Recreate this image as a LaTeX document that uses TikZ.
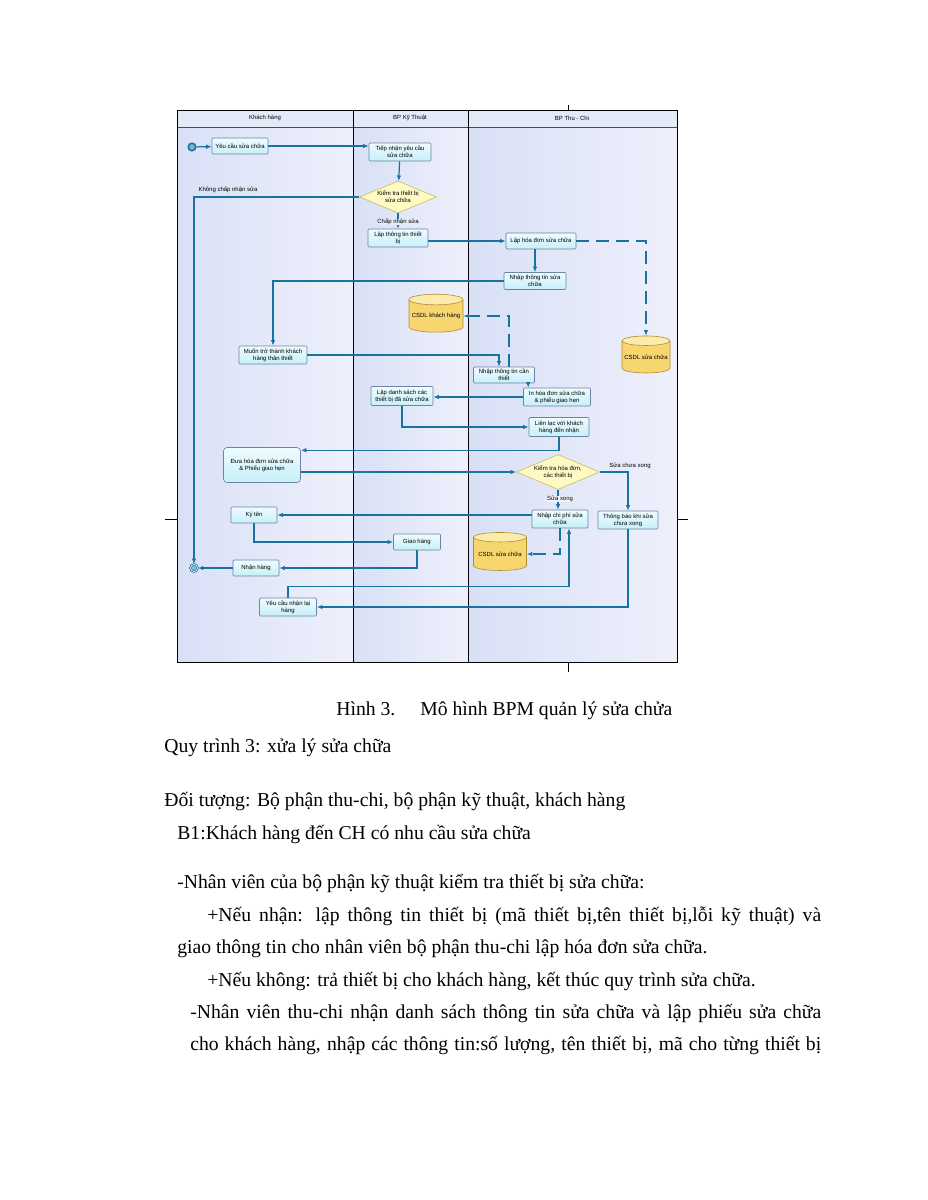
\documentclass[tikz,border=0pt]{standalone}
\usepackage{fontspec}
\setmainfont{Liberation Serif}
\newfontfamily\diagfont{Liberation Sans}
\usetikzlibrary{shapes.geometric,arrows.meta}
\begin{document}
\begin{tikzpicture}[x=0.02cm,y=-0.02cm,
    task/.style={draw=boxline, line width=0.35pt, rounded corners=0.6pt, top color=boxtop, bottom color=boxbot,
        align=center, inner sep=0.3pt, font=\diagfont\fontsize{3.4}{3.9}\selectfont},
    gate/.style={diamond, draw=gateline, line width=0.35pt, fill=gatefill, inner sep=0pt, align=center,
        font=\diagfont\fontsize{3.4}{3.9}\selectfont},
    store/.style={cylinder, shape border rotate=90, aspect=0.22, draw=dbline, line width=0.35pt,
        cylinder uses custom fill, cylinder body fill=dbbody, cylinder end fill=dbend, inner sep=0pt,
        align=center, font=\diagfont\fontsize{3.4}{3.9}\selectfont},
    flow/.style={draw=flowc, line width=0.7pt, -{Latex[length=1.1mm,width=0.9mm]}},
    dataflow/.style={flow, dash pattern=on 2.6mm off 1.4mm},
    lbl/.style={inner sep=0.3pt, font=\diagfont\fontsize{3.4}{3.9}\selectfont},
    lanehead/.style={font=\diagfont\fontsize{3.4}{3.9}\selectfont},
    txt/.style={anchor=base west, inner sep=0pt, font=\fontsize{11.2}{13}\selectfont}]
        \definecolor{lanel}{RGB}{217,224,246}
        \definecolor{laner}{RGB}{238,240,251}
        \definecolor{headc}{RGB}{228,233,248}
        \definecolor{boxline}{RGB}{110,130,165}
        \definecolor{boxtop}{RGB}{238,252,255}
        \definecolor{boxbot}{RGB}{198,240,248}
        \definecolor{gateline}{RGB}{200,190,95}
        \definecolor{gatefill}{RGB}{255,249,196}
        \definecolor{dbline}{RGB}{178,142,50}
        \definecolor{dbbody}{RGB}{247,214,112}
        \definecolor{dbend}{RGB}{252,236,172}
        \definecolor{flowc}{RGB}{25,115,160}
        \useasboundingbox[fill=white] (0,0) rectangle (927,1200);
        % lanes
        \shade[left color=lanel, right color=laner] (177,110) rectangle (353,662);
        \shade[left color=lanel, right color=laner] (353,110) rectangle (468,662);
        \shade[left color=lanel, right color=laner] (468,110) rectangle (677,662);
        \fill[headc] (177,110) rectangle (677,127);
        \draw[gray!60!black, line width=0.5pt] (177,127) -- (677,127);
        \draw[line width=0.55pt] (177,110) rectangle (677,662);
        \draw[line width=0.55pt] (353,110) -- (353,662);
        \draw[line width=0.55pt] (468,110) -- (468,662);
        \draw[line width=0.5pt] (165,519) -- (177,519);
        \draw[line width=0.5pt] (677,519) -- (688,519);
        \draw[line width=0.5pt] (568,105) -- (568,110);
        \draw[line width=0.5pt] (568,662) -- (568,672);
        \node[lanehead] (hkh) at (265,118) {Khách hàng};
        \node[lanehead] (hkt) at (410,118) {BP Kỹ Thuật};
        \node[lanehead] (htc) at (572,118) {BP Thu - Chi};
        % nodes
        \node[circle, draw=flowc, line width=0.9pt, fill=flowc!55, minimum size=0.15cm, inner sep=0pt] (start) at (192,147) {};
        \node[circle, draw=flowc, line width=0.5pt, double=white, double distance=0.4pt, fill=flowc!45, minimum size=0.14cm, inner sep=0pt] (end) at (194,568) {};
        \node[task, minimum width=1.12cm, minimum height=0.32cm] (yeucau) at (240,146) {Yêu cầu sửa chữa};
        \node[task, minimum width=1.24cm, minimum height=0.36cm] (tiepnhan) at (400,152) {Tiếp nhận yêu cầu\\sửa chữa};
        \node[gate, minimum width=1.54cm, minimum height=0.64cm, aspect=2.4] (ktra) at (398,197) {Kiểm tra thiết bị\\sửa chữa};
        \node[task, minimum width=1.2cm, minimum height=0.36cm] (lapttin) at (398,238) {Lập thông tin thiết\\bị};
        \node[task, minimum width=1.4cm, minimum height=0.32cm] (laphd) at (541,241) {Lập hóa đơn sửa chữa};
        \node[task, minimum width=1.24cm, minimum height=0.34cm] (nhapttsc) at (535,281) {Nhập thông tin sửa\\chữa};
        \node[store, minimum width=1.08cm, minimum height=0.76cm] (csdlkh) at (436,316) {CSDL khách hàng};
        \node[store, minimum width=0.96cm, minimum height=0.74cm] (csdlsc) at (646,357) {CSDL sửa chữa};
        \node[task, minimum width=1.36cm, minimum height=0.36cm] (muon) at (273,355) {Muốn trở thành khách\\hàng thân thiết};
        \node[task, minimum width=1.22cm, minimum height=0.32cm] (nhapcan) at (504,375) {Nhập thông tin cần\\thiết};
        \node[task, minimum width=1.34cm, minimum height=0.36cm] (inhd) at (557,397) {In hóa đơn sửa chữa\\\& phiếu giao hẹn};
        \node[task, minimum width=1.24cm, minimum height=0.38cm] (lapds) at (402,396) {Lập danh sách các\\thiết bị đã sửa chữa};
        \node[task, minimum width=1.2cm, minimum height=0.38cm] (lienlac) at (559,427) {Liên lạc với khách\\hàng đến nhận};
        \node[task, rounded corners=2pt, minimum width=1.54cm, minimum height=0.7cm] (duahd) at (262,465) {Đưa hóa đơn sửa chữa\\\& Phiếu giao hẹn};
        \node[gate, minimum width=1.66cm, minimum height=0.7cm, aspect=2.4] (kthd) at (558,472) {Kiểm tra hóa đơn,\\các thiết bị};
        \node[task, minimum width=1.12cm, minimum height=0.36cm] (nhapcp) at (560,519) {Nhập chi phí sửa\\chữa};
        \node[task, minimum width=1.2cm, minimum height=0.36cm] (thongbao) at (628,520) {Thông báo khi sửa\\chưa xong};
        \node[task, minimum width=0.92cm, minimum height=0.32cm] (kyten) at (254,515) {Ký tên};
        \node[task, minimum width=0.94cm, minimum height=0.32cm] (giaohang) at (417,542) {Giao hàng};
        \node[task, minimum width=0.92cm, minimum height=0.32cm] (nhanhang) at (256,568) {Nhận hàng};
        \node[store, minimum width=1.06cm, minimum height=0.76cm] (csdlsc2) at (500,554) {CSDL sửa chữa};
        \node[task, minimum width=1.14cm, minimum height=0.36cm] (yeucaunl) at (288,607) {Yêu cầu nhận lại\\hàng};
        \coordinate (c1) at ([xshift=0.1cm]inhd.north west);
        \coordinate (c2) at ([yshift=-0.06cm]duahd.north east);
        \coordinate (c3) at ([xshift=0.18cm]nhapcp.south);
        \coordinate (c4) at ([xshift=-0.1cm]nhapcan.north);
        \coordinate (c5) at ([xshift=0.1cm]nhapcan.north);
        % connectors
        \draw[flow] (start) -- (yeucau);
        \draw[flow] (yeucau.east) -- (yeucau.east -| tiepnhan.west);
        \draw[flow] (tiepnhan) -- (ktra);
        \draw[flow] (ktra.south) -- (lapttin.north);
        \draw[flow] (ktra.west) -| (end.north);
        \draw[flow] (lapttin.east |- laphd.west) -- (laphd.west);
        \draw[dataflow] (laphd.east) -| (csdlsc.north);
        \draw[flow] (laphd.south -| nhapttsc.north) -- (nhapttsc.north);
        \draw[flow] (nhapttsc.west) -| (muon.north);
        \draw[flow] (muon.east) -| (c4);
        \draw[dataflow] (c5) |- (csdlkh.east);
        \draw[flow] (c1 |- nhapcan.south) -- (c1);
        \draw[flow] (inhd.west) -- (inhd.west -| lapds.east);
        \draw[flow] (lapds.south) |- (lienlac.west);
        \draw[flow] (lienlac.south) |- (c2);
        \draw[flow] (duahd.east |- kthd.west) -- (kthd.west);
        \draw[flow] (kthd.east) -| (thongbao.north);
        \draw[flow] (kthd.south) -- (kthd.south |- nhapcp.north);
        \draw[flow] (nhapcp.west |- kyten.east) -- (kyten.east);
        \draw[flow] (kyten.south) |- (giaohang.west);
        \draw[flow] (giaohang.south) |- (nhanhang.east);
        \draw[flow] (nhanhang.west) -- (end.east);
        \draw[dataflow] (nhapcp.south) |- (csdlsc2.east);
        \draw[flow] (yeucaunl.north) -- ++(0,-11) -| (c3);
        \draw[flow] (thongbao.south) |- (yeucaunl.east);
        % labels
        \node[lbl, fill=lanel!60] (lchap) at (398,222) {Chấp nhận sửa};
        \node[lbl] (lkhong) at (228,190) {Không chấp nhận sửa};
        \node[lbl] (lchua) at (630,466) {Sửa chưa xong};
        \node[lbl, fill=laner!60] (lxong) at (560,499) {Sửa xong};
        % text
        \node[txt] (cap) at (336,715) {Hình 3.};
        \node[txt] (capt) at (420,715) {Mô hình BPM quản lý sửa chửa};
        \node[txt] (t1) at (164,752) {Quy trình 3: xửa lý sửa chữa};
        \node[txt] (t2) at (164,806) {Đối tượng: Bộ phận thu-chi, bộ phận kỹ thuật, khách hàng};
        \node[txt] (t3) at (177,839) {B1:Khách hàng đến CH có nhu cầu sửa chữa};
        \node[txt] (t4) at (177,888) {-Nhân viên của bộ phận kỹ thuật kiểm tra thiết bị sửa chữa:};
        \node[txt] (t5) at (207,921) {\makebox[12.28cm][s]{+Nếu nhận: lập thông tin thiết bị (mã thiết bị,tên thiết bị,lỗi kỹ thuật) và}};
        \node[txt] (t6) at (177,953) {giao thông tin cho nhân viên bộ phận thu-chi lập hóa đơn sửa chữa.};
        \node[txt] (t7) at (207,986) {+Nếu không: trả thiết bị cho khách hàng, kết thúc quy trình sửa chữa.};
        \node[txt] (t8) at (190,1018) {\makebox[12.62cm][s]{-Nhân viên thu-chi nhận danh sách thông tin sửa chữa và lập phiếu sửa chữa}};
        \node[txt] (t9) at (190,1050) {\makebox[12.62cm][s]{cho khách hàng, nhập các thông tin:số lượng, tên thiết bị, mã cho từng thiết bị}};
    \end{tikzpicture}
\end{document}
